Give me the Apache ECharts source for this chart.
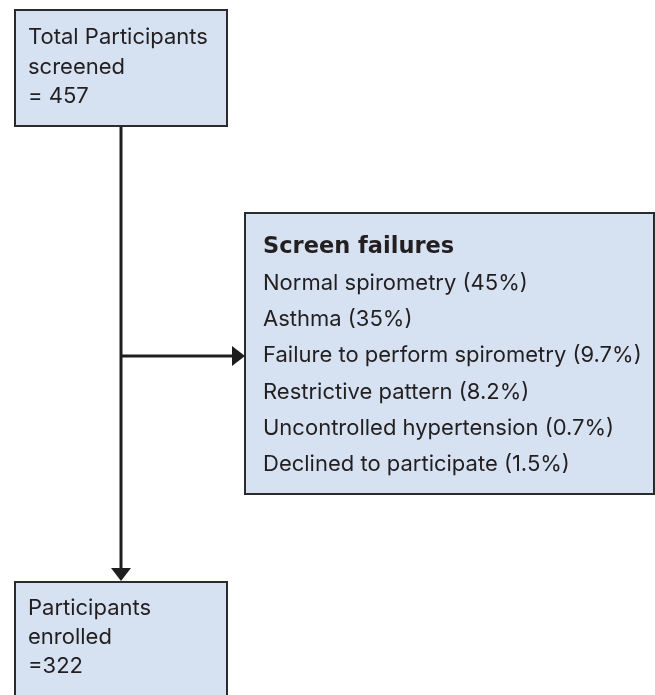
<!DOCTYPE html>
<html>
<head>
<meta charset="utf-8">
<script src="https://cdn.jsdelivr.net/npm/echarts@6/dist/echarts.min.js"></script>
<style>
html,body{margin:0;padding:0;background:#fff;}
#main{width:655px;height:695px;}
</style>
</head>
<body>
<div id="main"></div>
<script>
// box texts
var screenedLines = ['Total Participants', 'screened', '= 457'];
var failureTitle = 'Screen failures';
var failureReasons = [
    'Normal spirometry (45%)',
    'Asthma (35%)',
    'Failure to perform spirometry (9.7%)',
    'Restrictive pattern (8.2%)',
    'Uncontrolled hypertension (0.7%)',
    'Declined to participate (1.5%)'
];
var enrolledLines = ['Participants', 'enrolled', '=322'];

// layout (pixel-like units on a hidden grid), ty = first baseline
var boxes = [
    {rect: [15, 10, 227, 126], title: null, lines: screenedLines, tx: 28, ty: 42.7, step: 29.5},
    {rect: [245, 213, 654, 494], title: failureTitle, titleY: 253, lines: failureReasons, tx: 263, ty: 288.5, step: 36.3},
    {rect: [15, 582, 227, 720], title: null, lines: enrolledLines, tx: 28, ty: 614, step: 29}
];
// connectors: [x1,y1,x2,y2,arrow]
var links = [
    [121, 126, 121, 581, 'down'],
    [121, 356, 245, 356, 'right']
];

var FONT = 'Inter, "Noto Sans", sans-serif';
var FS = 22;
var TXT = '#231f20';

var chart = echarts.init(document.getElementById('main'));

function renderBox(params, api) {
    var b = boxes[params.dataIndex];
    var p0 = api.coord([b.rect[0], b.rect[1]]);
    var p1 = api.coord([b.rect[2], b.rect[3]]);
    var children = [{
        type: 'rect',
        shape: {x: p0[0], y: p0[1], width: p1[0] - p0[0], height: p1[1] - p0[1]},
        style: {fill: '#d6e2f1', stroke: '#2b2b2b', lineWidth: 2}
    }];
    var t0 = api.coord([b.tx, b.ty]);
    if (b.title) {
        var tp = api.coord([b.tx, b.titleY]);
        children.push({
            type: 'text',
            style: {text: b.title, x: tp[0], y: tp[1] - 17, font: 'bold 22.5px "DejaVu Sans", sans-serif', fill: TXT, verticalAlign: 'top'}
        });
    }
    for (var i = 0; i < b.lines.length; i++) {
        children.push({
            type: 'text',
            style: {text: b.lines[i], x: t0[0], y: t0[1] + i * b.step - FS * 0.74, font: FS + 'px ' + FONT, fill: TXT, verticalAlign: 'top'}
        });
    }
    return {type: 'group', children: children};
}

function renderLink(params, api) {
    var l = links[params.dataIndex];
    var a = api.coord([l[0], l[1]]);
    var b = api.coord([l[2], l[3]]);
    var arrowLen = 12, half = 10;
    var end = l[4] === 'down' ? [b[0], b[1] - arrowLen] : [b[0] - arrowLen, b[1]];
    var pts = l[4] === 'down'
        ? [[b[0] - half, b[1] - arrowLen - 1], [b[0] + half, b[1] - arrowLen - 1], [b[0], b[1]]]
        : [[b[0] - arrowLen - 1, b[1] - half], [b[0] - arrowLen - 1, b[1] + half], [b[0], b[1]]];
    return {type: 'group', children: [
        {type: 'line', shape: {x1: a[0], y1: a[1], x2: end[0], y2: end[1]}, style: {stroke: '#1e1e1e', lineWidth: 3}},
        {type: 'polygon', shape: {points: pts}, style: {fill: '#1e1e1e'}}
    ]};
}

var option = {
    animation: false,
    grid: {left: 0, right: 0, top: 0, bottom: 0},
    xAxis: {type: 'value', min: 0, max: 655, show: false},
    yAxis: {type: 'value', min: 0, max: 695, inverse: true, show: false},
    series: [
        {
            type: 'custom',
            renderItem: renderLink,
            data: links.map(function (l, i) { return [i]; }),
            silent: true
        },
        {
            type: 'custom',
            renderItem: renderBox,
            data: boxes.map(function (b, i) { return [i]; }),
            silent: true,
            z: 3
        }
    ]
};
chart.setOption(option);
</script>
</body>
</html>
